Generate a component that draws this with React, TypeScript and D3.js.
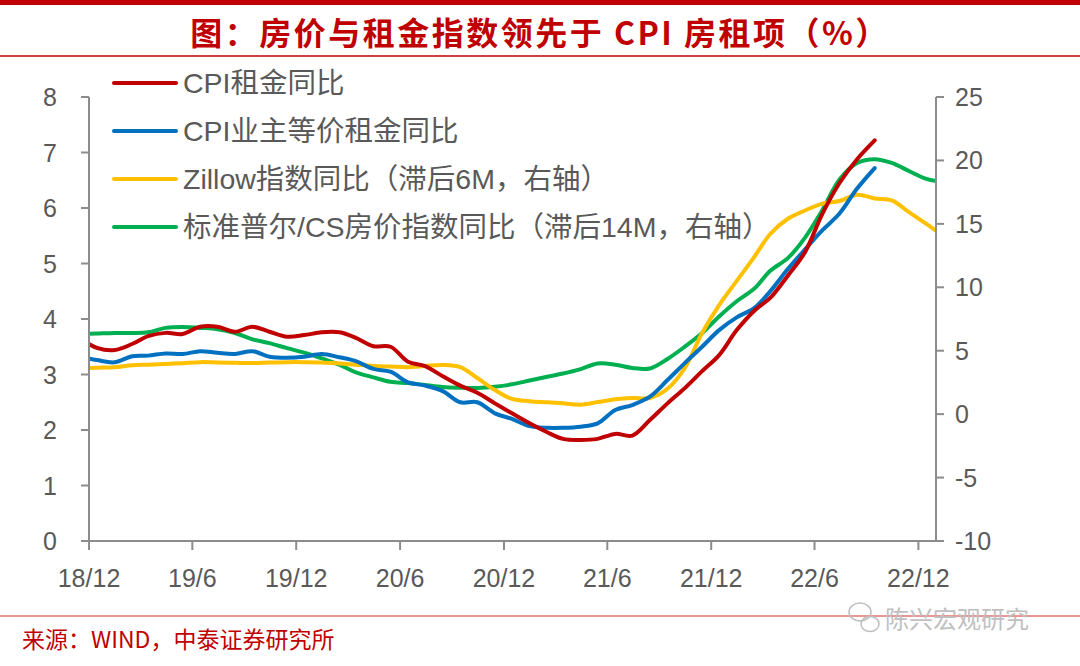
import { useEffect, useRef } from "react"
import * as d3 from "d3"

// monthly points, 2018-11 .. 2023-01
const months = [
    "2018-11", "2018-12",
    "2019-01", "2019-02", "2019-03", "2019-04", "2019-05", "2019-06", "2019-07", "2019-08", "2019-09", "2019-10", "2019-11", "2019-12",
    "2020-01", "2020-02", "2020-03", "2020-04", "2020-05", "2020-06", "2020-07", "2020-08", "2020-09", "2020-10", "2020-11", "2020-12",
    "2021-01", "2021-02", "2021-03", "2021-04", "2021-05", "2021-06", "2021-07", "2021-08", "2021-09", "2021-10", "2021-11", "2021-12",
    "2022-01", "2022-02", "2022-03", "2022-04", "2022-05", "2022-06", "2022-07", "2022-08", "2022-09", "2022-10", "2022-11", "2022-12",
    "2023-01",
]

// CPI租金同比 (left axis), to 2022-09
const cpiRent = [
    3.65, 3.48,
    3.44, 3.55, 3.69, 3.75, 3.73, 3.86, 3.86, 3.77, 3.86, 3.77, 3.68, 3.71,
    3.76, 3.76, 3.66, 3.51, 3.5, 3.23, 3.15, 2.97, 2.8, 2.67, 2.48, 2.3,
    2.12, 1.96, 1.84, 1.82, 1.84, 1.93, 1.9, 2.18, 2.48, 2.75, 3.06, 3.35,
    3.8, 4.15, 4.38, 4.78, 5.2, 5.9, 6.45, 6.88, 7.22,
]

// CPI业主等价租金同比 (left axis), to 2022-09
const cpiOer = [
    3.32, 3.26,
    3.22, 3.33, 3.34, 3.38, 3.37, 3.42, 3.39, 3.37, 3.42, 3.32, 3.3, 3.32,
    3.37, 3.31, 3.24, 3.1, 3.05, 2.86, 2.8, 2.7, 2.5, 2.5, 2.3, 2.2,
    2.07, 2.04, 2.04, 2.06, 2.12, 2.36, 2.45, 2.6, 2.9, 3.2, 3.5, 3.8,
    4.03, 4.2, 4.5, 4.9, 5.25, 5.6, 5.9, 6.35, 6.72,
]

// Zillow指数同比, lagged 6M (right axis)
const zillow = [
    3.6, 3.66,
    3.7, 3.85, 3.9, 3.95, 4.02, 4.1, 4.07, 4.05, 4.03, 4.07, 4.1, 4.1,
    4.08, 4.0, 3.9, 3.8, 3.75, 3.7, 3.8, 3.87, 3.7, 2.85, 1.9, 1.2,
    1.02, 0.93, 0.85, 0.75, 0.95, 1.18, 1.27, 1.27, 2.0, 3.6, 6.4, 8.6,
    10.5, 12.4, 14.2, 15.4, 16.05, 16.6, 16.8, 17.3, 17.0, 16.85, 15.9, 15.0,
    14.0,
]

// 标准普尔/CS房价指数同比, lagged 14M (right axis)
const caseShiller = [
    6.3, 6.35,
    6.4, 6.4, 6.45, 6.8, 6.87, 6.8, 6.7, 6.4, 5.9, 5.6, 5.2, 4.85,
    4.4, 3.9, 3.3, 2.9, 2.55, 2.45, 2.3, 2.14, 2.08, 2.06, 2.16, 2.35,
    2.65, 2.95, 3.2, 3.55, 4.0, 3.9, 3.64, 3.6, 4.35, 5.3, 6.4, 7.7,
    8.9, 9.9, 11.3, 12.3, 13.9, 16.1, 18.5, 19.8, 20.1, 19.8, 19.15, 18.55,
    18.3,
]

const leftTicks = [0, 1, 2, 3, 4, 5, 6, 7, 8]
const rightTicks = [-10, -5, 0, 5, 10, 15, 20, 25]
const xTickMonths = ["2018-12", "2019-06", "2019-12", "2020-06", "2020-12", "2021-06", "2021-12", "2022-06", "2022-12"]

const legendNames = [
    "CPI租金同比",
    "CPI业主等价租金同比",
    "Zillow指数同比（滞后6M，右轴）",
    "标准普尔/CS房价指数同比（滞后14M，右轴）",
]
const colors = ["#C00000", "#0070C0", "#FFC000", "#00B050"]

const W = 1080
const H = 666

export default function App() {
    const svgRef = useRef<SVGSVGElement | null>(null)

    useEffect(() => {
        document.body.style.margin = "0"
        if (!svgRef.current) return

        const svg = d3.select(svgRef.current)
        svg.selectAll("*").remove()

        const plot = { left: 89, right: 936, top: 97, bottom: 541 }
        const parse = d3.timeParse("%Y-%m")
        const mid = (m: string) => d3.timeDay.offset(parse(m)!, 14)

        const x = d3
            .scaleTime()
            .domain([parse("2018-12")!, parse("2023-01")!])
            .range([plot.left, plot.right])
        const yL = d3.scaleLinear().domain([0, 8]).range([plot.bottom, plot.top])
        const yR = d3.scaleLinear().domain([-10, 25]).range([plot.bottom, plot.top])

        const font = "'Liberation Sans', Arial, 'Noto Sans CJK SC', sans-serif"
        const axisColor = "#8C8C8C"
        const textColor = "#595959"

        // header bars
        svg.append("rect").attr("x", 0).attr("y", 0).attr("width", W).attr("height", 5).attr("fill", "#C00000")
        svg.append("text")
            .attr("x", W / 2)
            .attr("y", 45)
            .attr("text-anchor", "middle")
            .attr("font-family", "'Noto Sans CJK SC', sans-serif")
            .attr("font-weight", 700)
            .attr("font-size", 32)
            .attr("letter-spacing", 2.5)
            .attr("fill", "#C00000")
            .text("图：房价与租金指数领先于 CPI 房租项（%）")
        svg.append("line").attr("x1", 0).attr("x2", W).attr("y1", 56).attr("y2", 56)
            .attr("stroke", "#C00000").attr("stroke-width", 1.5)

        // lines
        svg.append("defs").append("clipPath").attr("id", "plotClip")
            .append("rect")
            .attr("x", plot.left).attr("y", 0)
            .attr("width", plot.right - plot.left).attr("height", H)

        const g = svg.append("g").attr("clip-path", "url(#plotClip)")
        const series = [
            { values: cpiRent, y: yL },
            { values: cpiOer, y: yL },
            { values: zillow, y: yR },
            { values: caseShiller, y: yR },
        ]
        // draw in this order so green sits under red, as in the picture
        const order = [3, 2, 1, 0]
        order.forEach((i) => {
            const s = series[i]
            const pts = s.values.map((v, k) => [x(mid(months[k])), s.y(v)] as [number, number])
            g.append("path")
                .attr("d", d3.line().curve(d3.curveCatmullRom.alpha(0.5))(pts))
                .attr("fill", "none")
                .attr("stroke", colors[i])
                .attr("stroke-width", 4)
                .attr("stroke-linecap", "round")
                .attr("stroke-linejoin", "round")
        })

        // left axis
        const ax = svg.append("g").attr("stroke", axisColor).attr("stroke-width", 2)
        ax.append("line").attr("x1", plot.left).attr("x2", plot.left).attr("y1", plot.top).attr("y2", plot.bottom)
        leftTicks.forEach((t) => {
            ax.append("line").attr("x1", plot.left - 8).attr("x2", plot.left).attr("y1", yL(t)).attr("y2", yL(t))
        })
        // right axis
        ax.append("line").attr("x1", plot.right).attr("x2", plot.right).attr("y1", plot.top).attr("y2", plot.bottom)
        rightTicks.forEach((t) => {
            ax.append("line").attr("x1", plot.right).attr("x2", plot.right + 8).attr("y1", yR(t)).attr("y2", yR(t))
        })
        // bottom axis
        ax.append("line").attr("x1", plot.left - 8).attr("x2", plot.right + 4).attr("y1", plot.bottom).attr("y2", plot.bottom)
        xTickMonths.forEach((m) => {
            const px = x(parse(m)!)
            ax.append("line").attr("x1", px).attr("x2", px).attr("y1", plot.bottom).attr("y2", plot.bottom + 9)
        })

        const labels = svg.append("g").attr("font-family", font).attr("font-size", 25).attr("fill", textColor)
        leftTicks.forEach((t) => {
            labels.append("text").attr("x", 57).attr("y", yL(t) + 9).attr("text-anchor", "end").text(t)
        })
        rightTicks.forEach((t) => {
            labels.append("text").attr("x", 955).attr("y", yR(t) + 9).attr("text-anchor", "start").text(t)
        })
        const fmt = d3.timeFormat("%y/%-m")
        xTickMonths.forEach((m) => {
            labels.append("text").attr("x", x(parse(m)!)).attr("y", 587).attr("text-anchor", "middle")
                .text(fmt(parse(m)!))
        })

        // legend
        const lg = svg.append("g")
        legendNames.forEach((name, i) => {
            const ly = 83 + i * 48
            lg.append("line").attr("x1", 114).attr("x2", 176).attr("y1", ly).attr("y2", ly)
                .attr("stroke", colors[i]).attr("stroke-width", 4).attr("stroke-linecap", "round")
            lg.append("text").attr("x", 183).attr("y", ly + 10)
                .attr("font-family", font).attr("font-size", 28.5).attr("fill", textColor)
                .text(name)
        })

        // footer
        svg.append("line").attr("x1", 0).attr("x2", W).attr("y1", 616).attr("y2", 616)
            .attr("stroke", "#D9534F").attr("stroke-width", 1.5).attr("stroke-opacity", 0.8)
        svg.append("text")
            .attr("x", 22).attr("y", 648)
            .attr("font-family", "'Noto Sans CJK SC', sans-serif")
            .attr("font-size", 23)
            .attr("fill", "#C00000")
            .text("来源：WIND，中泰证券研究所")
        svg.append("text")
            .attr("x", 885).attr("y", 628)
            .attr("font-family", "'Noto Sans CJK SC', sans-serif")
            .attr("font-size", 24)
            .attr("fill", "#BFBFBF")
            .text("陈兴宏观研究")
        const icon = svg.append("g").attr("fill", "none").attr("stroke", "#BFBFBF").attr("stroke-width", 1.5)
        icon.append("ellipse").attr("cx", 860).attr("cy", 612).attr("rx", 11).attr("ry", 9)
        icon.append("ellipse").attr("cx", 870).attr("cy", 624).attr("rx", 9).attr("ry", 7.5)
    }, [])

    return <svg ref={svgRef} width={W} height={H} style={{ display: "block", background: "#fff" }} />
}
